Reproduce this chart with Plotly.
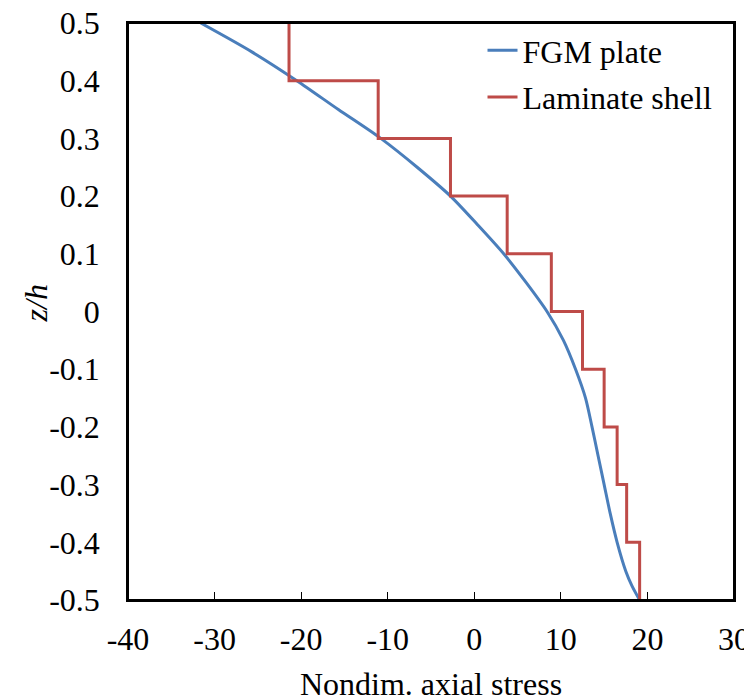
import plotly.graph_objects as go

# FGM plate: through-thickness distribution
fgm_z = [0.5, 0.45, 0.4, 0.35, 0.3, 0.25, 0.2, 0.15, 0.1, 0.05, 0.0,
         -0.05, -0.1, -0.15, -0.2, -0.25, -0.3, -0.35, -0.4, -0.45, -0.475, -0.5]
fgm_stress = [-31.6, -25.7, -20.5, -15.7, -10.8, -6.6, -2.75, 0.4, 3.4, 6.0, 8.4,
              10.3, 11.7, 12.85, 13.6, 14.3, 15.0, 15.7, 16.5, 17.5, 18.2, 19.1]

# Laminate shell: layer boundaries (top to bottom) and layer stresses
lam_z = [0.5, 0.4, 0.3, 0.2, 0.1, 0.0, -0.1, -0.2, -0.3, -0.4, -0.5]
lam_stress = [-21.4, -11.1, -2.75, 3.8, 8.9, 12.5, 15.0, 16.5, 17.6, 19.1]

x_ticks = [-40, -30, -20, -10, 0, 10, 20, 30]
x_labels = ["-40", "-30", "-20", "-10", "0", "10", "20", "30"]
y_ticks = [0.5, 0.4, 0.3, 0.2, 0.1, 0.0, -0.1, -0.2, -0.3, -0.4, -0.5]
y_labels = ["0.5", "0.4", "0.3", "0.2", "0.1", "0", "-0.1", "-0.2", "-0.3", "-0.4", "-0.5"]

lam_x = lam_stress + [lam_stress[-1]]

FONT = "Liberation Serif"
FS = 32

fig = go.Figure()
fig.add_trace(go.Scatter(
    x=fgm_stress, y=fgm_z, mode="lines", name="FGM plate",
    line=dict(color="#4a7ebb", width=3, shape="spline", smoothing=0.8),
    legendgroup="a"))
fig.add_trace(go.Scatter(
    x=lam_x, y=lam_z, mode="lines", name="Laminate shell",
    line=dict(color="#be4b48", width=3, shape="vh"),
    legendgroup="b"))

fig.update_layout(
    width=752, height=700,
    margin=dict(l=120, r=26, t=15, b=108, pad=0, autoexpand=False),
    paper_bgcolor="white", plot_bgcolor="white",
    font=dict(family=FONT, size=FS, color="black"),
    showlegend=True,
    legend=dict(x=0.585, y=1.0, xanchor="left", yanchor="top",
                bgcolor="rgba(0,0,0,0)", font=dict(family=FONT, size=FS),
                tracegroupgap=2, itemwidth=30),
    xaxis=dict(range=[-40, 30], tickvals=x_ticks, ticktext=x_labels,
               automargin=False, ticklabeloverflow="allow",
               ticks="inside", ticklen=8, tickcolor="black", tickwidth=1.3,
               ticklabelstandoff=10,
               showline=True, linecolor="black", linewidth=1.5, mirror=True,
               showgrid=False, zeroline=False,
               tickfont=dict(family=FONT, size=FS, color="black"),
               title=dict(text="Nondim. axial stress",
                          font=dict(family=FONT, size=FS, color="black"), standoff=16)),
    yaxis=dict(range=[-0.5, 0.5], tickvals=y_ticks, ticktext=y_labels,
               automargin=False, ticklabeloverflow="allow",
               ticks="", ticklabelstandoff=20,
               showline=True, linecolor="black", linewidth=1.5, mirror=True,
               showgrid=False, zeroline=False,
               tickfont=dict(family=FONT, size=FS, color="black")),
    shapes=[dict(type="rect", xref="x domain", yref="y domain", x0=0, x1=1, y0=0, y1=1,
                 line=dict(color="black", width=2), fillcolor="rgba(0,0,0,0)",
                 layer="above")],
    annotations=[dict(text="<i>z/h</i>", xref="paper", yref="paper",
                      x=0, y=0.514, xanchor="center", yanchor="middle",
                      xshift=-92, textangle=-90, showarrow=False,
                      font=dict(family=FONT, size=FS, color="black"))],
)

fig.write_html("out.html")
